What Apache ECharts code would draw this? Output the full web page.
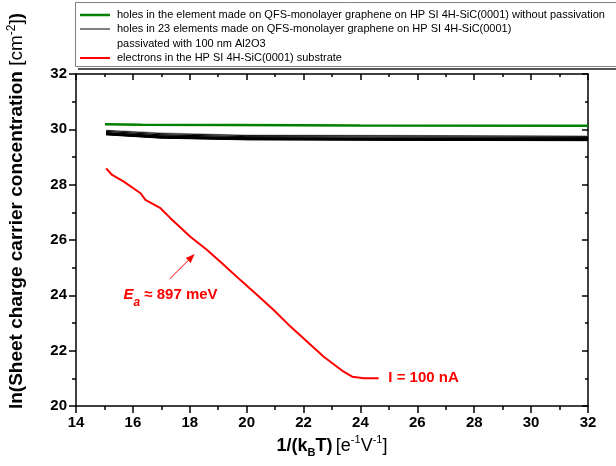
<!DOCTYPE html>
<html>
<head>
<meta charset="utf-8">
<script src="https://cdn.jsdelivr.net/npm/echarts@6/dist/echarts.min.js"></script>
<style>
  html, body { margin: 0; padding: 0; background: #fff; }
  #chart { width: 616px; height: 466px; }
</style>
</head>
<body>
<div id="chart"></div>
<script>
const FONT = "'Liberation Sans', Arial, sans-serif";

// red: electrons in the substrate
const redX = [15.06, 15.27, 15.68, 16.27, 16.44, 16.97, 17.32, 18.02, 18.61, 19.20,
  19.78, 20.37, 20.95, 21.54, 22.13, 22.71, 23.41, 23.71, 24.12, 24.64];
const redY = [28.59, 28.35, 28.11, 27.69, 27.45, 27.15, 26.79, 26.12, 25.64, 25.10,
  24.55, 24.01, 23.47, 22.87, 22.32, 21.78, 21.24, 21.06, 21.00, 21.00];

// green: element without passivation
const greenX = [15.02, 16.3, 19.5, 24, 32];
const greenY = [30.18, 30.17, 30.16, 30.14, 30.13];

// black: 23 passivated elements, sampled at blackX
const blackX = [15.06, 17, 20, 26, 32];
const blackY = [
  [29.97, 29.87, 29.79, 29.78, 29.76],
  [29.95, 29.84, 29.77, 29.76, 29.74],
  [29.94, 29.82, 29.75, 29.74, 29.72],
  [29.93, 29.81, 29.74, 29.72, 29.71],
  [29.92, 29.80, 29.73, 29.71, 29.70],
  [29.91, 29.79, 29.72, 29.70, 29.69],
  [29.90, 29.78, 29.71, 29.70, 29.68],
  [29.89, 29.77, 29.70, 29.69, 29.67],
  [29.89, 29.76, 29.70, 29.68, 29.67],
  [29.88, 29.76, 29.69, 29.67, 29.66],
  [29.87, 29.75, 29.69, 29.67, 29.65],
  [29.87, 29.74, 29.68, 29.66, 29.65],
  [29.86, 29.74, 29.68, 29.66, 29.64],
  [29.86, 29.73, 29.67, 29.65, 29.64],
  [29.85, 29.73, 29.67, 29.65, 29.63],
  [29.85, 29.72, 29.66, 29.64, 29.63],
  [29.84, 29.72, 29.66, 29.64, 29.62],
  [29.84, 29.71, 29.65, 29.63, 29.62],
  [29.83, 29.71, 29.65, 29.63, 29.61],
  [29.83, 29.70, 29.64, 29.62, 29.61],
  [29.82, 29.70, 29.64, 29.62, 29.60],
  [29.81, 29.69, 29.63, 29.61, 29.60],
  [29.80, 29.68, 29.62, 29.60, 29.59]
];
const blackColors = ['#888', '#000', '#000', '#aaa', '#000', '#000', '#000', '#000', '#999', '#000',
  '#000', '#000', '#000', '#000', '#000', '#000', '#000', '#000', '#000', '#000', '#000', '#000', '#000'];

const legendLabels = [
  'holes in the element made on QFS-monolayer graphene on HP SI 4H-SiC(0001) without passivation',
  'holes in 23 elements made on QFS-monolayer graphene on HP SI 4H-SiC(0001)',
  'passivated with 100 nm Al2O3',
  'electrons in the HP SI 4H-SiC(0001) substrate'
];

// annotations (data coordinates)
const arrowFrom = [17.29, 24.59];
const arrowTo = [18.17, 25.49];
const eaLabelAt = [15.67, 24.01];
const currentLabelAt = [24.98, 21.0];

const zip = (xs, ys) => xs.map((x, i) => [x, ys[i]]);

const chart = echarts.init(document.getElementById('chart'));

const axisLine = { show: true, onZero: false, lineStyle: { color: '#000', width: 1.5 } };
const tickLabel = { color: '#000', fontSize: 15, fontWeight: 'bold', fontFamily: FONT, showMinLabel: true, showMaxLabel: true };

function axis(min, max, position, inside, labels, extra) {
  return Object.assign({
    type: 'value', min: min, max: max, interval: 2, position: position,
    axisLine: axisLine,
    axisTick: { show: true, inside: inside, length: inside ? 6 : 7, lineStyle: { color: '#000', width: 1.5 } },
    minorTick: { show: true, splitNumber: 2, length: inside ? 3 : 4, lineStyle: { color: '#000', width: 1.5 } },
    splitLine: { show: false },
    minorSplitLine: { show: false },
    axisLabel: labels ? Object.assign({ margin: 9 }, tickLabel) : { show: false }
  }, extra || {});
}

const series = blackY.map((ys, i) => ({
  type: 'line', data: zip(blackX, ys), symbol: 'none', silent: true,
  lineStyle: { color: blackColors[i], width: 1 }, z: 2
}));
series.push({
  type: 'line', data: zip(greenX, greenY), symbol: 'none', silent: true,
  lineStyle: { color: '#008000', width: 2.5 }, z: 3
});
series.push({
  type: 'line', data: zip(redX, redY), symbol: 'none', silent: true,
  lineStyle: { color: '#ff0000', width: 2 }, z: 4
});

chart.setOption({
  animation: false,
  backgroundColor: '#fff',
  grid: { left: 76, right: 28, top: 74, bottom: 60, containLabel: false, outerBoundsMode: 'none' },
  xAxis: [
    axis(14, 32, 'bottom', false, true, {
      name: '{b|1/(k}{bs|B}{b|T)} {n|[e}{ns|-1}{n|V}{ns|-1}{n|]}',
      nameLocation: 'middle', nameGap: 27,
      nameTextStyle: {
        rich: {
          b: { fontSize: 18, fontWeight: 'bold', color: '#000', fontFamily: FONT, lineHeight: 22 },
          bs: { fontSize: 11, fontWeight: 'bold', color: '#000', fontFamily: FONT, verticalAlign: 'bottom', lineHeight: 22, padding: [0, 0, -2, 0] },
          n: { fontSize: 18, color: '#000', fontFamily: FONT, lineHeight: 22 },
          ns: { fontSize: 11, color: '#000', fontFamily: FONT, verticalAlign: 'top', lineHeight: 22 }
        }
      }
    }),
    axis(14, 32, 'top', true, false)
  ],
  yAxis: [
    axis(20, 32, 'left', false, true),
    axis(20, 32, 'right', true, false)
  ],
  series: series
});

const px = (c) => chart.convertToPixel({ gridIndex: 0 }, c);
const eaPos = px(eaLabelAt);
const curPos = px(currentLabelAt);
const a0 = px(arrowFrom);
const a1 = px(arrowTo);

// arrow head geometry
const ang = Math.atan2(a1[1] - a0[1], a1[0] - a0[0]);
const headLen = 9, headHalf = 3.5;
const hb = [a1[0] - headLen * Math.cos(ang), a1[1] - headLen * Math.sin(ang)];
const head = [
  a1,
  [hb[0] + headHalf * Math.sin(ang), hb[1] - headHalf * Math.cos(ang)],
  [hb[0] - headHalf * Math.sin(ang), hb[1] + headHalf * Math.cos(ang)]
];

const legendRows = [15, 29, 44, 58];
const graphics = [
  { type: 'rect', shape: { x: 75.5, y: 2.5, width: 600, height: 64 }, style: { fill: '#fff', stroke: '#808080', lineWidth: 1 }, z: 10 },
  { type: 'line', shape: { x1: 78, y1: 69, x2: 616, y2: 69 }, style: { stroke: '#555', lineWidth: 2 }, z: 10 },
  { type: 'line', shape: { x1: 80, y1: legendRows[0], x2: 110, y2: legendRows[0] }, style: { stroke: '#008000', lineWidth: 2.5 }, z: 11 },
  { type: 'line', shape: { x1: 80, y1: legendRows[1], x2: 110, y2: legendRows[1] }, style: { stroke: '#000', lineWidth: 1 }, z: 11 },
  { type: 'line', shape: { x1: 80, y1: legendRows[3], x2: 110, y2: legendRows[3] }, style: { stroke: '#ff0000', lineWidth: 2 }, z: 11 },
  { type: 'line', shape: { x1: a0[0], y1: a0[1], x2: hb[0], y2: hb[1] }, style: { stroke: '#ff0000', lineWidth: 1 }, z: 11 },
  { type: 'polygon', shape: { points: head }, style: { fill: '#ff0000' }, z: 11 }
];
legendLabels.forEach((t, i) => {
  graphics.push({
    type: 'text', x: 117, y: legendRows[i], z: 11,
    style: { text: t, fill: '#000', font: '11px ' + FONT, verticalAlign: 'middle', align: 'left' }
  });
});
// y axis title
graphics.push({
  type: 'text', x: 17, y: 211, rotation: Math.PI / 2, z: 11,
  style: {
    text: '{b|ln(Sheet charge carrier concentration }{n|[cm}{ns|-2}{n|]}{b|)}',
    align: 'center', verticalAlign: 'middle',
    rich: {
      b: { fontSize: 19, fontWeight: 'bold', fill: '#000', fontFamily: FONT, lineHeight: 23 },
      n: { fontSize: 19, fill: '#000', fontFamily: FONT, lineHeight: 23 },
      ns: { fontSize: 12, fill: '#000', fontFamily: FONT, verticalAlign: 'top', lineHeight: 23 }
    }
  }
});
// annotations
graphics.push({
  type: 'text', x: eaPos[0], y: eaPos[1], z: 11,
  style: {
    text: '{e|E}{s|a}{t| \u2248 897 meV}',
    verticalAlign: 'middle', align: 'left',
    rich: {
      e: { fontSize: 15, fontWeight: 'bold', fontStyle: 'italic', fill: '#ff0000', fontFamily: FONT, lineHeight: 20 },
      s: { fontSize: 12, fontWeight: 'bold', fontStyle: 'italic', fill: '#ff0000', fontFamily: FONT, verticalAlign: 'bottom', lineHeight: 20, padding: [0, 0, -4, 0] },
      t: { fontSize: 15, fontWeight: 'bold', fill: '#ff0000', fontFamily: FONT, lineHeight: 20 }
    }
  }
});
graphics.push({
  type: 'text', x: curPos[0], y: curPos[1], z: 11,
  style: { text: 'I = 100 nA', fill: '#ff0000', font: 'bold 15px ' + FONT, verticalAlign: 'middle', align: 'left' }
});

chart.setOption({ graphic: graphics });
</script>
</body>
</html>
